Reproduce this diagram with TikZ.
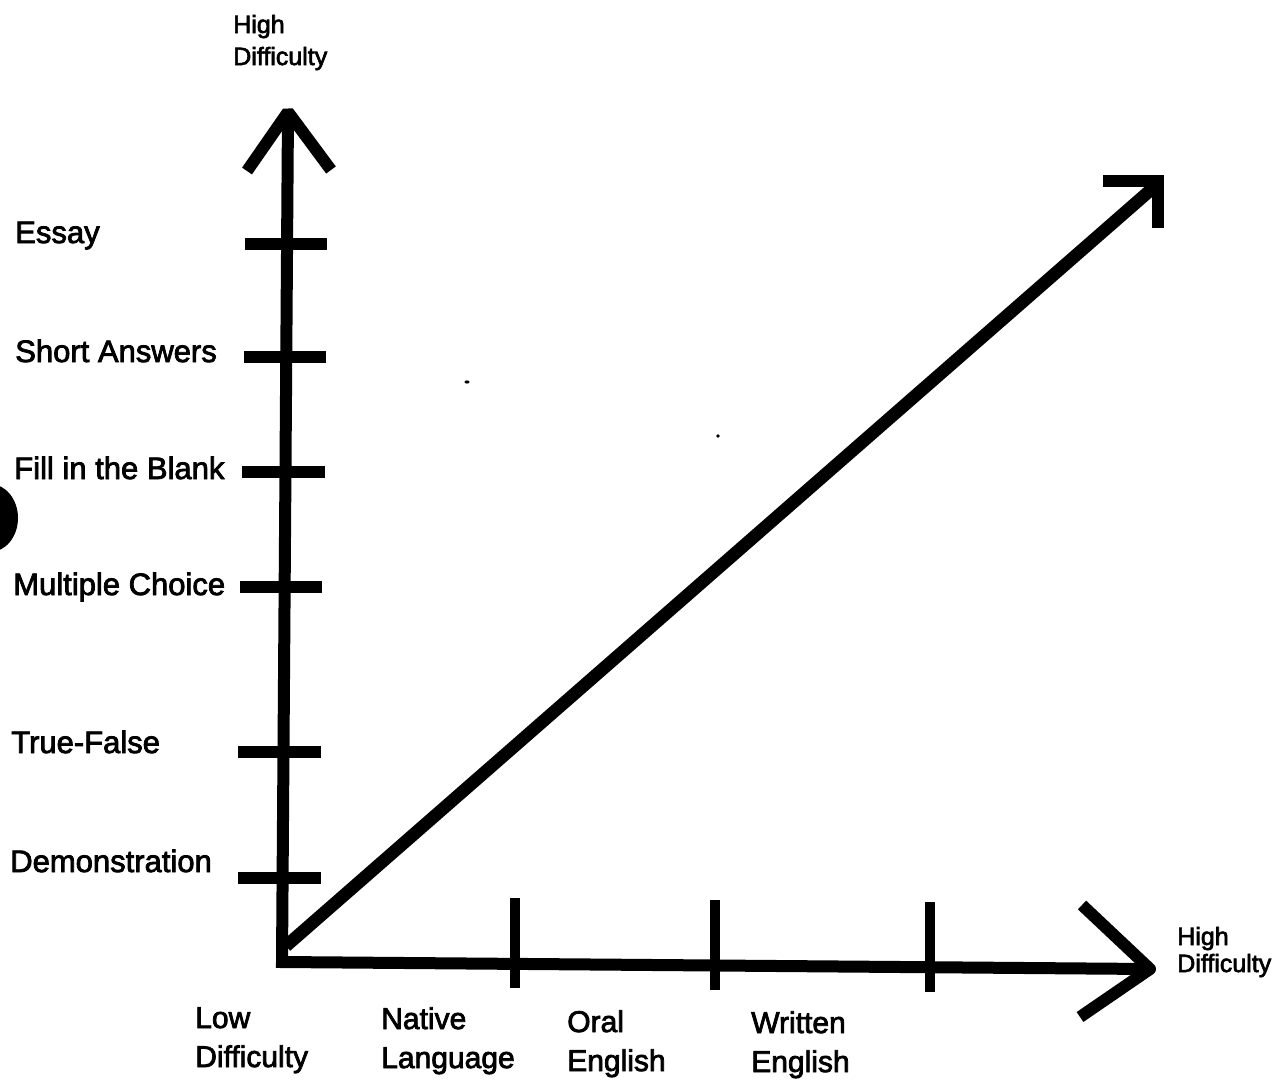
\documentclass[tikz,border=0pt]{standalone}
\usepackage{fontspec}
\setmainfont{Liberation Sans}[FakeBold=2.5]
\begin{document}
\begin{tikzpicture}[x=0.75pt,y=-0.75pt,
  axis/.style={line width=9pt},
  tickmark/.style={line width=8.5pt},
  sidelbl/.style={font=\fontsize{23.25pt}{28pt}\selectfont, inner sep=0pt, anchor=base west},
  botlbl/.style={font=\fontsize{22.5pt}{29.25pt}\selectfont, inner sep=0pt, anchor=base west, align=left},
  toplbl/.style={font=\fontsize{18.75pt}{24pt}\selectfont, inner sep=0pt, anchor=base west, align=left},
  rightlbl/.style={font=\fontsize{18.75pt}{20.25pt}\selectfont, inner sep=0pt, anchor=base west, align=left}]
\useasboundingbox (0,0) rectangle (1282,1079);
\fill[white] (0,0) rectangle (1282,1079);

% scan artefacts
\fill[black] (-10,518) ellipse [x radius=28, y radius=34];
\fill[black] (467,382) ellipse [x radius=2.5, y radius=1.6];
\fill[black] (718,436) circle [radius=1.8];

% axes
\coordinate (vtop) at (288,112);
\coordinate (O) at (282,962);
\coordinate (htip) at (1150,969);
\draw[axis, line join=miter] (vtop) -- (O) -- (htip);

% vertical arrowhead
\coordinate (va1) at (247,171);
\coordinate (va2) at (331,170);
\draw[axis, line join=bevel] (va1) -- (vtop) -- (va2);

% horizontal arrowhead
\coordinate (ha1) at (1082,905);
\coordinate (ha2) at (1080,1017);
\draw[axis, line join=round] (ha1) -- (htip) -- (ha2);

% diagonal
\coordinate (dstart) at (286,946);
\coordinate (dtip) at (1154,187);
\draw[axis, line width=9.5pt] (dstart) -- (dtip);
\coordinate (da1) at (1103,181);
\coordinate (dcorner) at (1158,181);
\coordinate (da2) at (1158,228);
\draw[axis, line join=miter] (da1) -- (dcorner) -- (da2);

% vertical ticks
\draw[tickmark] (245,244) -- (327,244);
\draw[tickmark] (244,357) -- (326,357);
\draw[tickmark] (242,472) -- (325,472);
\draw[tickmark] (240,587) -- (322,587);
\draw[tickmark] (238,752) -- (321,752);
\draw[tickmark] (238,878) -- (321,878);

% horizontal ticks
\draw[tickmark, line width=8pt] (515,898) -- (515,988);
\draw[tickmark, line width=8pt] (715,900) -- (715,990);
\draw[tickmark, line width=8pt] (930,902) -- (930,992);

% labels
\node[toplbl] (ytitle) at (233,65) {High\\Difficulty};
\node[sidelbl] (essay) at (15,243) {Essay};
\node[sidelbl] (short) at (15,362) {Short Answers};
\node[sidelbl] (fill) at (14,479) {Fill in the Blank};
\node[sidelbl] (mult) at (13,595) {Multiple Choice};
\node[sidelbl] (tf) at (11,753) {True-False};
\node[sidelbl] (demo) at (10,872) {Demonstration};

\node[botlbl] (low) at (195,1067) {Low\\Difficulty};
\node[botlbl] (native) at (381,1068) {Native\\Language};
\node[botlbl] (oral) at (567,1071) {Oral\\English};
\node[botlbl] (written) at (751,1072) {Written\\English};
\node[rightlbl] (xtitle) at (1177,972) {High\\Difficulty};
\end{tikzpicture}
\end{document}
